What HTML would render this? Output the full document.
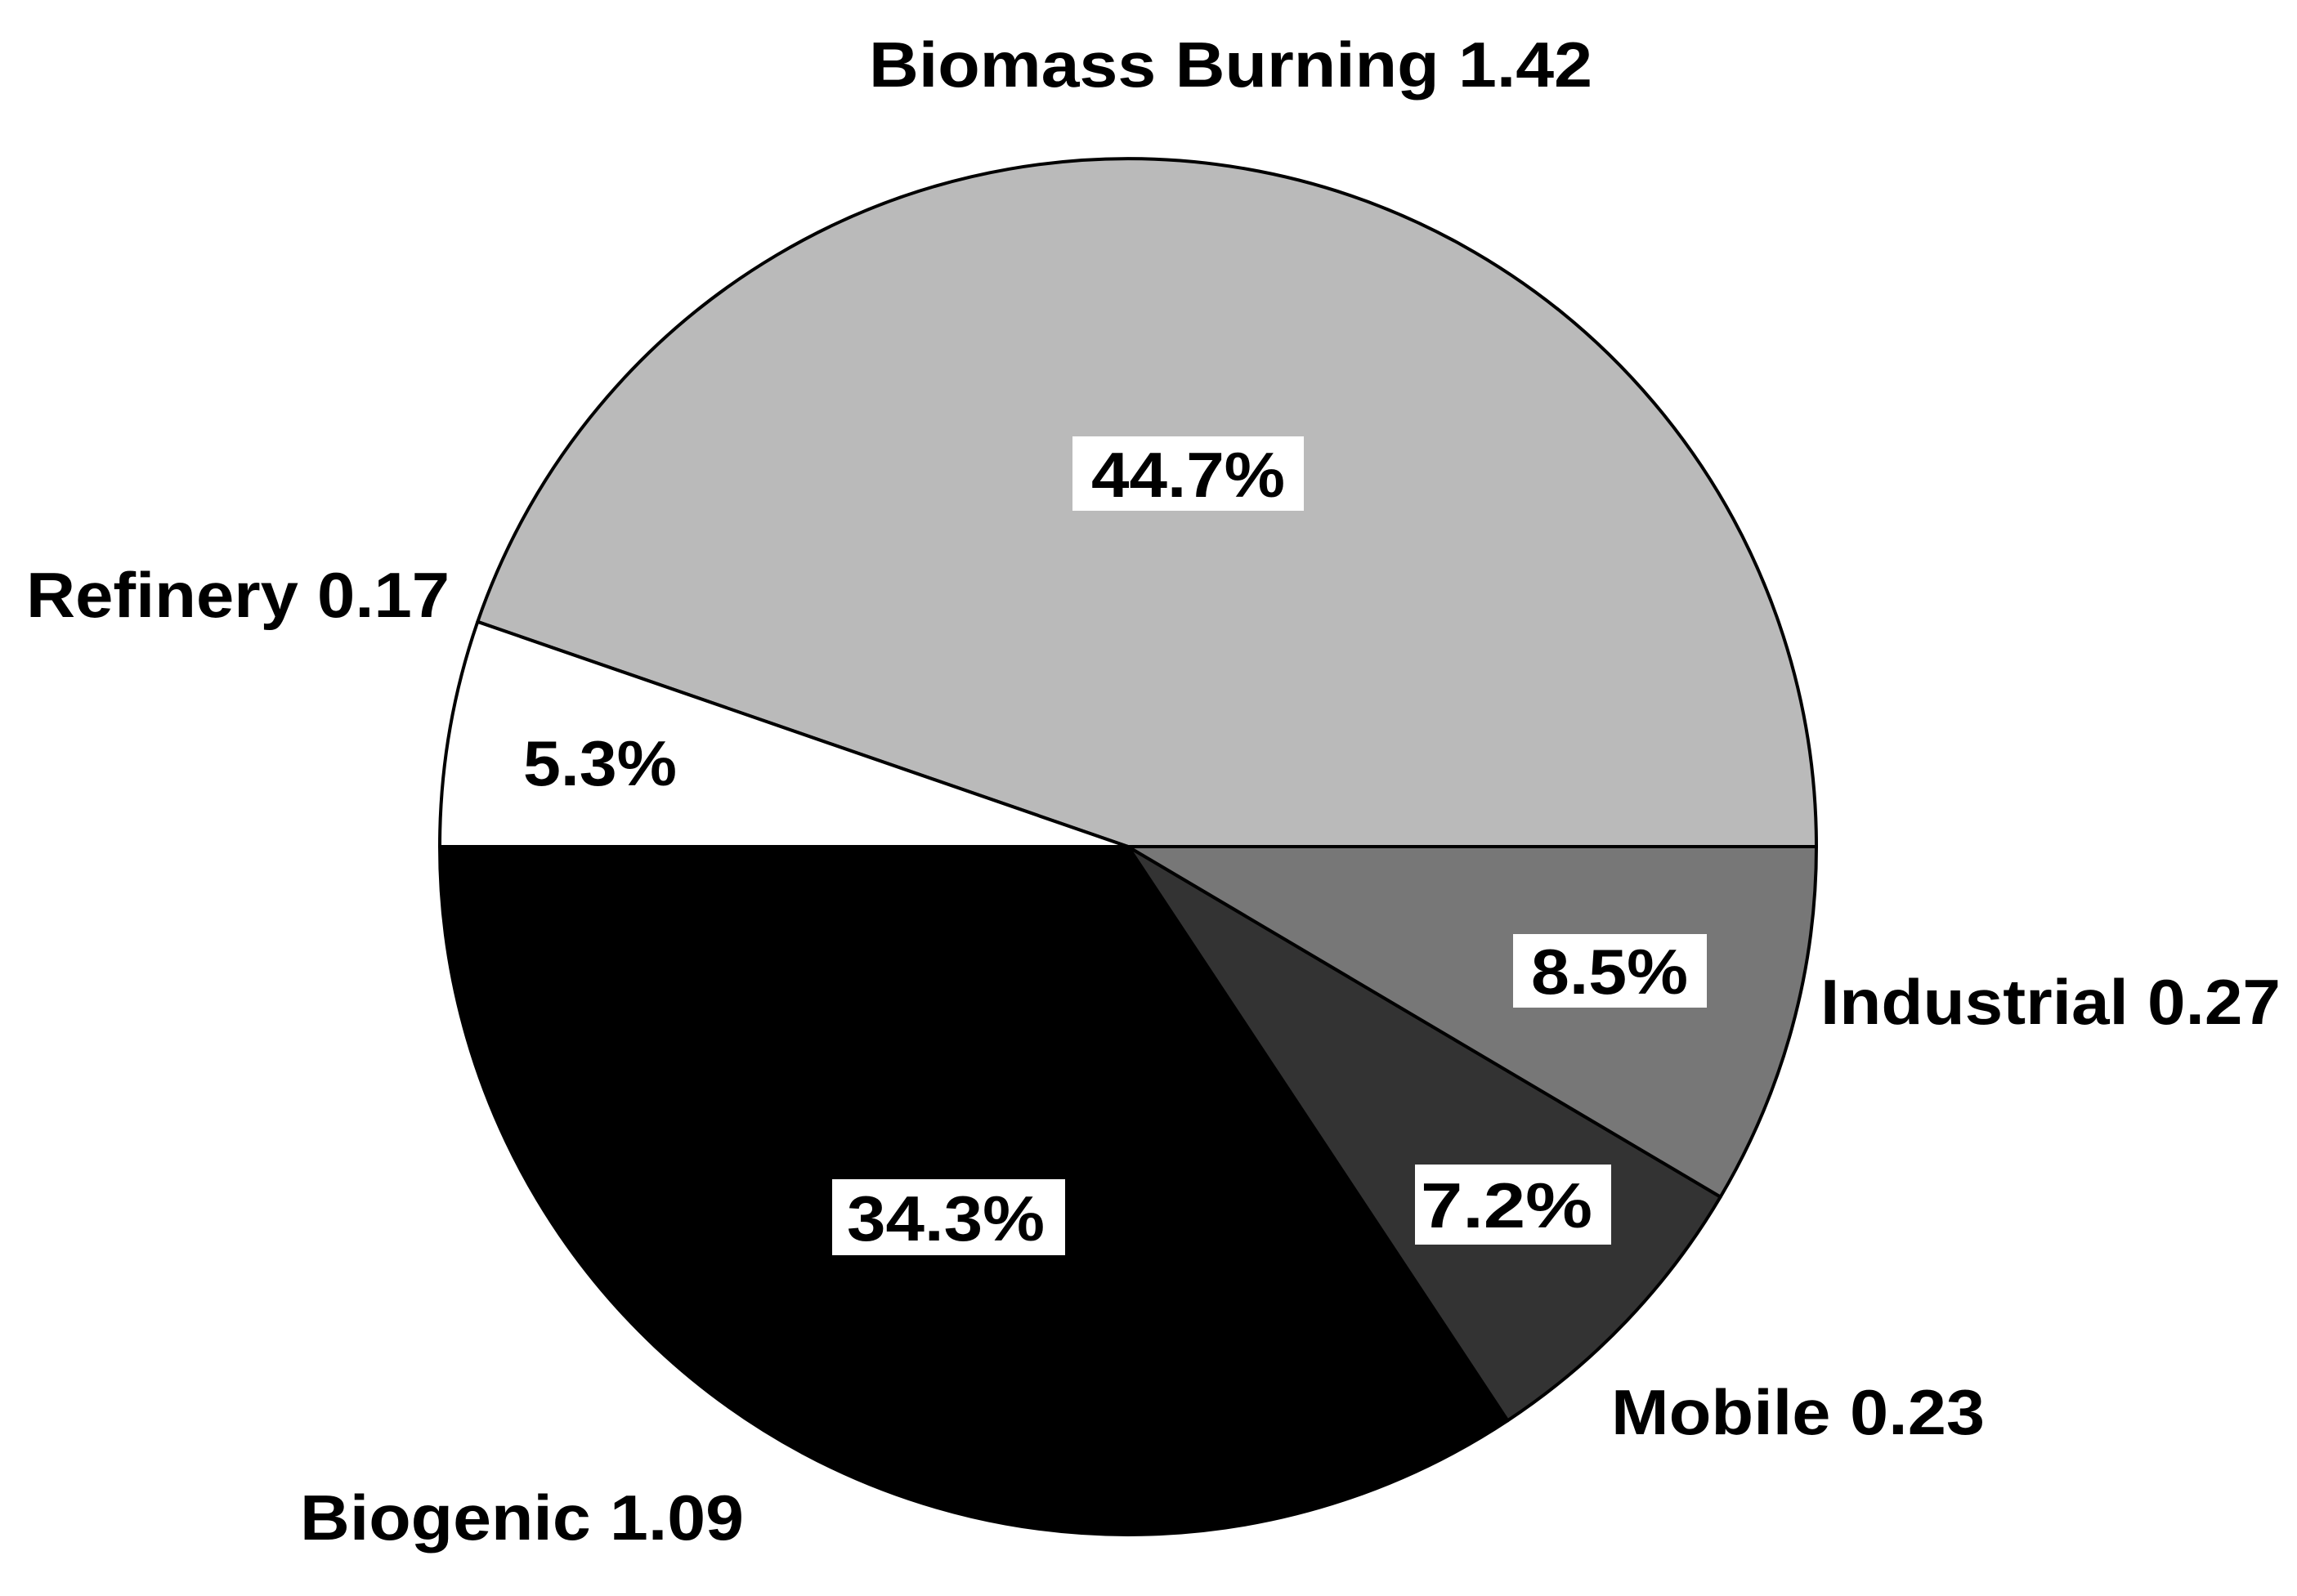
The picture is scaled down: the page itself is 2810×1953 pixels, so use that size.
<!DOCTYPE html>
<html><head><meta charset="utf-8"><style>
html,body{margin:0;padding:0;background:#fff;}
svg{display:block;}
text{font-family:"Liberation Sans",Arial,sans-serif;font-weight:bold;fill:#000;}
</style></head><body>
<svg width="2810" height="1953" viewBox="0 0 2810 1953" xmlns="http://www.w3.org/2000/svg">
<rect width="2810" height="1953" fill="#fff"/>
<g stroke="#000" stroke-width="4" stroke-linejoin="round">
<path d="M1380,1036 L2222,1036 A842,842 0 0 0 584.3,760.8 Z" fill="#bababa"/>
<path d="M1380,1036 L584.3,760.8 A842,842 0 0 0 538,1036 Z" fill="#ffffff"/>
<path d="M1380,1036 L538,1036 A842,842 0 0 0 1844.4,1738.3 Z" fill="#000000"/>
<path d="M1380,1036 L1844.4,1738.3 A842,842 0 0 0 2104.7,1464.6 Z" fill="#333333"/>
<path d="M1380,1036 L2104.7,1464.6 A842,842 0 0 0 2222,1036 Z" fill="#777777"/>
</g>
<g fill="#fff">
<rect x="1312" y="534" width="283" height="91"/>
<rect x="1851" y="1143" width="237" height="90"/>
<rect x="1731" y="1425" width="240" height="98"/>
<rect x="1018" y="1443" width="285" height="93"/>
</g>
<g font-size="78" lengthAdjust="spacingAndGlyphs">
<text x="1063" y="106" textLength="885" lengthAdjust="spacingAndGlyphs">Biomass Burning 1.42</text>
<text x="32" y="755" textLength="518" lengthAdjust="spacingAndGlyphs">Refinery 0.17</text>
<text x="2227" y="1253" textLength="563" lengthAdjust="spacingAndGlyphs">Industrial 0.27</text>
<text x="1971" y="1755" textLength="457" lengthAdjust="spacingAndGlyphs">Mobile 0.23</text>
<text x="367" y="1884" textLength="543" lengthAdjust="spacingAndGlyphs">Biogenic 1.09</text>
<text x="1335" y="608" textLength="237" lengthAdjust="spacingAndGlyphs">44.7%</text>
<text x="640" y="961" textLength="188" lengthAdjust="spacingAndGlyphs">5.3%</text>
<text x="1873" y="1216" textLength="192" lengthAdjust="spacingAndGlyphs">8.5%</text>
<text x="1738" y="1502" textLength="210" lengthAdjust="spacingAndGlyphs">7.2%</text>
<text x="1036" y="1518" textLength="242" lengthAdjust="spacingAndGlyphs">34.3%</text>
</g>
</svg>
</body></html>
